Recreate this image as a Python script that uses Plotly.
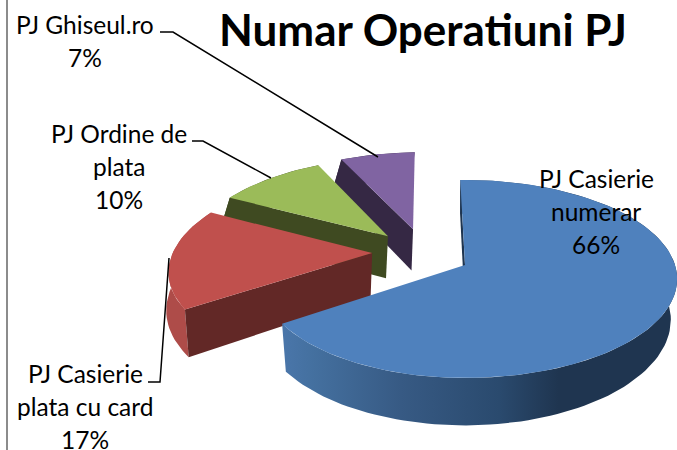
import math
import plotly.graph_objects as go

title = "Numar Operatiuni PJ"
categories = ["PJ Casierie numerar", "PJ Casierie plata cu card", "PJ Ordine de plata", "PJ Ghiseul.ro"]
values = [66, 17, 10, 7]
category_lines = [["PJ Casierie", "numerar"], ["PJ Casierie", "plata cu card"], ["PJ Ordine de", "plata"], ["PJ Ghiseul.ro"]]

# styling / layout constants
top_colors = ["#4f81bd", "#c0504d", "#9bbb59", "#8064a2"]
face_colors = ["#1f3550", "#622826", "#3f4a21", "#352844"]
arc_colors = [None, "#ae4c49", "#3f4a21", "#352844"]
explode = [(0, 0), (-0.4655, 0.126), (-0.396, 0.31), (-0.27, 0.39)]
label_pos = [(596, 179), (85, 374), (119, 134), (85, 25)]
leaders = [None, [(148, 382), (160, 382), (169, 258)], [(192, 141), (203, 141), (271, 178)], [(160, 32), (173, 32), (378, 157)]]
ROT = -1.5
CX, TOPY, A, AL, B, K = 465, 265, 210, 203, 97, 0.1413
BOTY, A2, B2, K2 = 310, 205, 105, 0.09
LINE_GAP = 33


def top_pt(X, Y):
    s = 1 + K * Y
    return CX + (A if X > 0 else AL) * X / s, TOPY - B * Y / s


def bot_pt(X, Y):
    s = 1 + K2 * Y
    return CX + A2 * X / s, BOTY - B2 * Y / s


def ground(theta, ex, ey, r=1.0):
    t = math.radians(theta)
    return ex + r * math.sin(t), ey + r * math.cos(t)


def poly(pts, color=None, gradient=None):
    xs = [p[0] for p in pts] + [pts[0][0]]
    ys = [p[1] for p in pts] + [pts[0][1]]
    kw = dict(fillgradient=gradient) if gradient else dict(fillcolor=color)
    return go.Scatter(x=xs, y=ys, mode="lines", fill="toself", line=dict(width=0),
                      hoverinfo="skip", showlegend=False, **kw)


total = sum(values)
spans = []
a0 = ROT
for v in values:
    a1 = a0 + 360 * v / total
    spans.append((a0, a1))
    a0 = a1

blue_grad = dict(type="horizontal", colorscale=[[0, "#4a76aa"], [0.08, "#44709f"], [0.3, "#375a84"],
                                                [0.55, "#2a4a6e"], [0.7, "#1f3550"], [1, "#1f3550"]])

traces = []
for i in [3, 2, 1, 0]:
    a0, a1 = spans[i]
    ex, ey = explode[i]
    n = max(8, int((a1 - a0) / 2))
    thetas = [a0 + (a1 - a0) * j / n for j in range(n + 1)]
    arc = [ground(t, ex, ey) for t in thetas]
    wall = [top_pt(*g) for g in arc] + [bot_pt(*g) for g in reversed(arc)]
    if i == 0:
        traces.append(poly(wall, gradient=blue_grad))
    else:
        traces.append(poly(wall, color=arc_colors[i]))
    o = ground(a0, ex, ey)
    face = [top_pt(ex, ey), top_pt(*o), bot_pt(*o), bot_pt(ex, ey)]
    traces.append(poly(face, color=face_colors[i]))
    top = [top_pt(ex, ey)] + [top_pt(*g) for g in arc]
    traces.append(poly(top, color=top_colors[i]))

for lead in leaders:
    if lead:
        traces.append(go.Scatter(x=[p[0] for p in lead], y=[p[1] for p in lead], mode="lines",
                                 line=dict(color="black", width=1.5), hoverinfo="skip", showlegend=False))

annotations = [dict(x=423, y=29, xref="x", yref="y", text="<b>%s</b>" % title, showarrow=False,
                    font=dict(family="Lato", size=44, color="black"), xanchor="center", yanchor="middle")]
for i, lines in enumerate(category_lines):
    lx, ly = label_pos[i]
    for j, txt in enumerate(lines + ["%d%%" % values[i]]):
        annotations.append(dict(x=lx, y=ly + j * LINE_GAP - 1, xref="x", yref="y", text=txt, showarrow=False,
                                font=dict(family="Lato", size=24.5, color="black"),
                                xanchor="center", yanchor="middle"))

fig = go.Figure(traces)
fig.update_layout(
    width=677, height=450, margin=dict(l=0, r=0, t=0, b=0), autosize=False,
    paper_bgcolor="white", plot_bgcolor="white", showlegend=False,
    xaxis=dict(range=[0, 677], visible=False, fixedrange=True),
    yaxis=dict(range=[450, 0], visible=False, fixedrange=True),
    annotations=annotations,
    shapes=[dict(type="line", xref="x", yref="y", x0=7, x1=7, y0=0, y1=450,
                 line=dict(color="#8c8c8c", width=2))],
)
fig.write_html("out.html", config=dict(displayModeBar=False), post_script="document.body.style.margin='0';")
